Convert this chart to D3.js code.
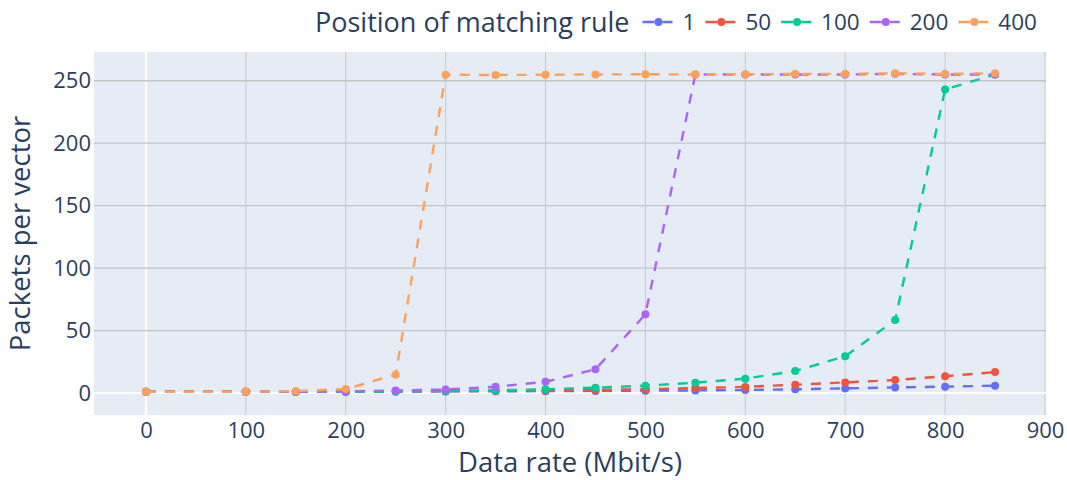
<!DOCTYPE html>
<html>
<head>
<meta charset="utf-8">
<script src="https://cdn.jsdelivr.net/npm/d3@7"></script>
<style>
  body { margin: 0; background: #fff; }
  text { font-family: "Open Sans", sans-serif; fill: #2a3f5f; }
</style>
</head>
<body>
<div id="vis-container"></div>
<script>
let width = 1067, height = 480;
let margin = {left: 94, right: 21, top: 52, bottom: 65};

// data
let rates = [0, 100, 150, 200, 250, 300, 350, 400, 450, 500, 550, 600, 650, 700, 750, 800, 850];
let series_names = ["1", "50", "100", "200", "400"];
let pos_1   = [1, 1, 1, 1, 1.2, 1.3, 1.4, 1.5, 1.7, 1.9, 2.1, 2.4, 3, 3.7, 4.5, 5.1, 5.9];
let pos_50  = [1, 1, 1, 1, 1.3, 1.5, 1.8, 2, 2.5, 3, 4, 4.9, 6.7, 8.5, 10.4, 13.4, 16.8];
let pos_100 = [1, 1, 1, 1, 1.3, 1.6, 2.2, 3, 4.3, 5.9, 8.3, 11.5, 17.6, 29.4, 58.5, 243, 255];
let pos_200 = [1, 1, 1, 1.3, 2, 2.8, 5, 9, 19, 63, 255, 255, 255, 255, 255.5, 255, 255];
let pos_400 = [1, 1, 1.5, 3.2, 14.7, 254.8, 254.6, 254.8, 255, 255.2, 255, 255.2, 255.5, 255.5, 256, 255.5, 256];
let all_series = [pos_1, pos_50, pos_100, pos_200, pos_400];
let colors = ["#636efa", "#EF553B", "#00cc96", "#ab63fa", "#FFA15A"];
let x_ticks = [0, 100, 200, 300, 400, 500, 600, 700, 800, 900];
let y_ticks = [0, 50, 100, 150, 200, 250];

let svg = d3.select("#vis-container").append("svg")
  .attr("width", width)
  .attr("height", height);

let x = d3.scaleLinear().domain([-52, 901]).range([margin.left, width - margin.right]);
let y = d3.scaleLinear().domain([-17.6, 273]).range([height - margin.bottom, margin.top]);

// plot background
svg.append("rect")
  .attr("x", margin.left).attr("y", margin.top)
  .attr("width", width - margin.left - margin.right)
  .attr("height", height - margin.top - margin.bottom)
  .attr("fill", "#E5ECF6");

// grid
svg.append("g").selectAll("line").data(x_ticks).enter().append("line")
  .attr("x1", d => x(d)).attr("x2", d => x(d))
  .attr("y1", margin.top).attr("y2", height - margin.bottom)
  .attr("stroke", d => d === 0 ? "#ffffff" : "#c8c8c8")
  .attr("stroke-width", d => d === 0 ? 2 : 1);
svg.append("g").selectAll("line").data(y_ticks).enter().append("line")
  .attr("y1", d => y(d)).attr("y2", d => y(d))
  .attr("x1", margin.left).attr("x2", width - margin.right)
  .attr("stroke", d => d === 0 ? "#ffffff" : "#c4c4c4")
  .attr("stroke-width", d => d === 0 ? 2 : 1.3);

// axes (labels only)
let xAxis = svg.append("g")
  .attr("transform", "translate(0," + (height - margin.bottom) + ")")
  .call(d3.axisBottom(x).tickValues(x_ticks).tickSize(0).tickPadding(7));
let yAxis = svg.append("g")
  .attr("transform", "translate(" + margin.left + ",0)")
  .call(d3.axisLeft(y).tickValues(y_ticks).tickSize(0).tickPadding(3));
[xAxis, yAxis].forEach(a => {
  a.select(".domain").remove();
  a.selectAll("text").style("font-size", "22px").style("font-family", "Open Sans").attr("fill", "#2a3f5f");
});

// axis titles
svg.append("text")
  .attr("x", (margin.left + width - margin.right) / 2)
  .attr("y", 472)
  .attr("text-anchor", "middle")
  .style("font-size", "27.5px")
  .text("Data rate (Mbit/s)");
svg.append("text")
  .attr("transform", "translate(30," + ((margin.top + height - margin.bottom) / 2) + ") rotate(-90)")
  .attr("text-anchor", "middle")
  .style("font-size", "27.5px")
  .text("Packets per vector");

// lines and markers
let line = d3.line().x((d, i) => x(rates[i])).y(d => y(d));
let plot = svg.append("g");
all_series.forEach((vals, k) => {
  plot.append("path")
    .datum(vals)
    .attr("d", line)
    .attr("fill", "none")
    .attr("stroke", colors[k])
    .attr("stroke-width", 2.4)
    .attr("stroke-dasharray", "10,9");
  plot.append("g").selectAll("circle").data(vals).enter().append("circle")
    .attr("cx", (d, i) => x(rates[i]))
    .attr("cy", d => y(d))
    .attr("r", 4)
    .attr("fill", colors[k]);
});

// legend
let legend_title = svg.append("text")
  .attr("x", 315).attr("y", 32)
  .style("font-size", "27px")
  .text("Position of matching rule");
let lx = 315 + legend_title.node().getComputedTextLength() + 13;
let ly = 22;
series_names.forEach((name, k) => {
  let g = svg.append("g").attr("class", "legend");
  g.append("line")
    .attr("x1", lx).attr("x2", lx + 30)
    .attr("y1", ly).attr("y2", ly)
    .attr("stroke", colors[k]).attr("stroke-width", 2.4)
    .attr("stroke-dasharray", "12,8");
  g.append("circle").attr("cx", lx + 16).attr("cy", ly).attr("r", 4).attr("fill", colors[k]);
  let t = g.append("text")
    .attr("x", lx + 40).attr("y", 30)
    .style("font-size", "22.5px")
    .text(name);
  lx = lx + 40 + t.node().getComputedTextLength() + 10;
});
</script>
</body>
</html>
